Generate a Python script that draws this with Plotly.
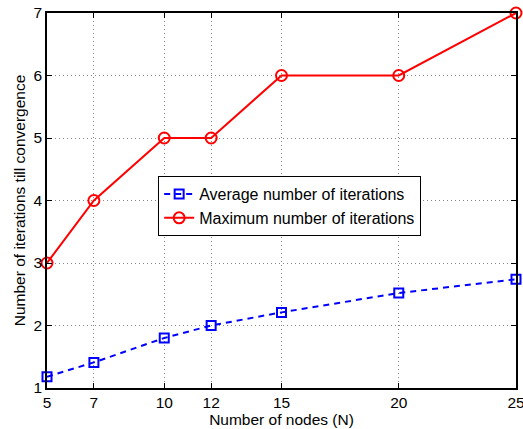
import plotly.graph_objects as go

nodes = [5, 7, 10, 12, 15, 20, 25]
avg_iterations = [1.18, 1.41, 1.80, 2.00, 2.21, 2.52, 2.74]
max_iterations = [3, 4, 5, 5, 6, 6, 7]
y_ticks = [1, 2, 3, 4, 5, 6, 7]

fig = go.Figure()
fig.add_trace(go.Scatter(
    x=nodes, y=avg_iterations, mode="lines+markers",
    name="Average number of iterations",
    line=dict(color="#0000ff", width=2, dash="6px,5px"),
    marker=dict(symbol="square-open", size=9, color="#0000ff", line=dict(width=2)),
    cliponaxis=False,
))
fig.add_trace(go.Scatter(
    x=nodes, y=max_iterations, mode="lines+markers",
    name="Maximum number of iterations",
    line=dict(color="#ff0000", width=2),
    marker=dict(symbol="circle-open", size=11, color="#ff0000", line=dict(width=2)),
    cliponaxis=False,
))

axis_common = dict(
    showline=True, linecolor="black", linewidth=1.5, mirror="ticks",
    ticks="inside", ticklen=5, tickcolor="black",
    showgrid=True, gridcolor="#888888", griddash="1px,3px", gridwidth=1,
    zeroline=False, tickfont=dict(size=15.5, color="black"),
    automargin=False, ticklabeloverflow="allow",
)

fig.update_layout(
    width=523, height=429,
    margin=dict(l=47, r=7, t=13, b=41),
    paper_bgcolor="white", plot_bgcolor="white",
    font=dict(family="Liberation Sans, Arial, sans-serif", color="black"),
    xaxis=dict(range=[5, 25], tickvals=nodes,
               title=dict(text="Number of nodes (N)", font=dict(size=15.5), standoff=0),
               **axis_common),
    yaxis=dict(range=[1, 7], tickvals=y_ticks,
               title=dict(text="Number of iterations till convergence", font=dict(size=15.5), standoff=4),
               **axis_common),
    legend=dict(x=0.237, y=0.565, xanchor="left", yanchor="top",
                bgcolor="white", bordercolor="black", borderwidth=1,
                font=dict(size=16), tracegroupgap=0, itemwidth=30),
    showlegend=True,
)

fig.write_html("out.html")
